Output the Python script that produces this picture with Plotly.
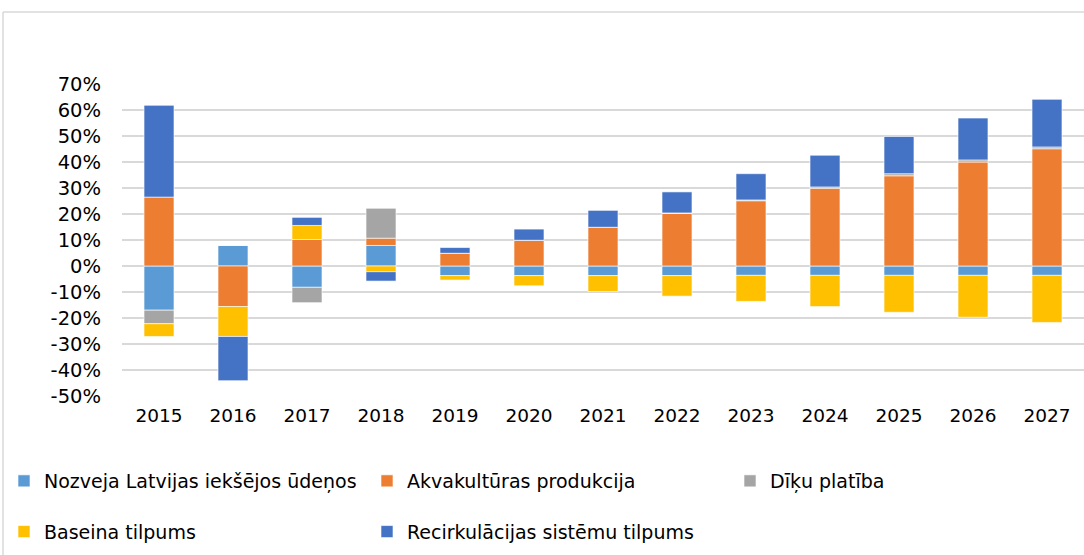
import plotly.graph_objects as go

years = ["2015", "2016", "2017", "2018", "2019", "2020", "2021",
         "2022", "2023", "2024", "2025", "2026", "2027"]

nozveja = [-17.0, 7.9, -8.2, 7.9, -3.7, -3.7, -3.7, -3.7, -3.6, -3.6, -3.6, -3.6, -3.6]
akvakultura = [26.5, -15.6, 10.2, 2.8, 4.9, 9.9, 14.9, 20.2, 25.1, 29.9, 34.7, 40.0, 45.1]
diku_platiba = [-5.2, 0.0, -5.9, 11.5, 0.0, 0.0, 0.0, 0.2, 0.3, 0.5, 0.8, 0.8, 0.7]
baseina = [-4.9, -11.5, 5.4, -2.2, -1.7, -3.9, -6.1, -7.9, -10.0, -12.0, -14.2, -16.1, -18.1]
recirkulacijas = [35.3, -17.0, 3.1, -3.6, 2.2, 4.3, 6.5, 8.1, 10.1, 12.2, 14.3, 16.1, 18.3]

series_names = ["Nozveja Latvijas iekšējos ūdeņos", "Akvakultūras produkcija",
                "Dīķu platība", "Baseina tilpums", "Recirkulācijas sistēmu tilpums"]
series_values = [nozveja, akvakultura, diku_platiba, baseina, recirkulacijas]
colors = ["#5B9BD5", "#ED7D31", "#A5A5A5", "#FFC000", "#4472C4"]
# legend columns (entries laid out in a 3 x 2 grid as in the original)
legend_ids = ["legend", "legend2", "legend3", "legend", "legend2"]

tick_vals = [70, 60, 50, 40, 30, 20, 10, 0, -10, -20, -30, -40, -50]
tick_text = ["70%", "60%", "50%", "40%", "30%", "20%", "10%", "0%",
             "-10%", "-20%", "-30%", "-40%", "-50%"]

FONT = "DejaVu Sans"
W, H = 1084, 555
ML, MR, MT, MB = 122, 0, 84, 159

fig = go.Figure()
for i, (name, vals, col, lg) in enumerate(zip(series_names, series_values, colors, legend_ids)):
    fig.add_trace(go.Bar(
        x=years, y=vals, name=name, legend=lg, legendgroup="g%d" % i,
        marker=dict(color=col, line=dict(color="rgba(255,255,255,0.6)", width=1)),
    ))

pw = W - ML - MR
ph = H - MT - MB
def px_x(x):
    return (x - ML) / pw
def px_y(y):
    return (H - MB - y) / ph

fig.add_shape(type="line", xref="paper", yref="paper",
              x0=px_x(3), x1=px_x(1090), y0=px_y(12), y1=px_y(12),
              line=dict(color="#D9D9D9", width=1.5))
fig.add_shape(type="line", xref="paper", yref="paper",
              x0=px_x(3), x1=px_x(3), y0=px_y(12), y1=px_y(560),
              line=dict(color="#D9D9D9", width=1.5))

legend_common = dict(
    orientation="v", xref="container", yref="container",
    xanchor="left", yanchor="top", tracegroupgap=23,
    font=dict(family=FONT, size=19, color="#000000"),
    bgcolor="rgba(0,0,0,0)", itemclick=False, itemdoubleclick=False,
)
LEG_TOP = 1 - 462 / H

fig.update_layout(
    width=W, height=H,
    margin=dict(l=ML, r=MR, t=MT, b=MB, autoexpand=False),
    paper_bgcolor="white", plot_bgcolor="white",
    barmode="relative", bargap=0.595,
    font=dict(family=FONT, size=19, color="#000000"),
    xaxis=dict(type="category", showgrid=False, zeroline=False, showline=False,
               ticks="", tickfont=dict(family=FONT, size=18.5, color="#000000"),
               ticklabelstandoff=6, automargin=False),
    yaxis=dict(range=[-50, 70], tickvals=tick_vals, ticktext=tick_text,
               showgrid=True, gridcolor="#D9D9D9", gridwidth=2,
               zeroline=True, zerolinecolor="#D9D9D9", zerolinewidth=2,
               showline=False, ticks="", automargin=False,
               tickfont=dict(family=FONT, size=19.5, color="#000000"),
               ticklabelstandoff=20),
    legend=dict(x=4 / W, y=LEG_TOP, **legend_common),
    legend2=dict(x=367 / W, y=LEG_TOP, **legend_common),
    legend3=dict(x=730 / W, y=LEG_TOP, **legend_common),
    showlegend=True,
)

fig.write_html("out.html", config={"displayModeBar": False},
               post_script="document.body.style.margin='0';")
